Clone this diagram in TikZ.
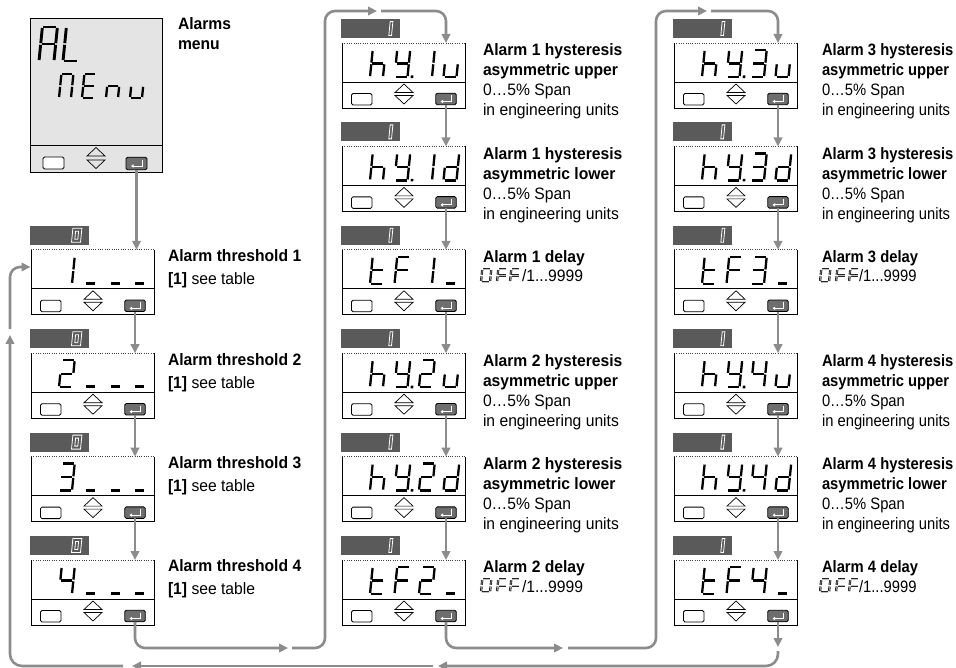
\documentclass[tikz,border=0pt]{standalone}
\usepackage{fontspec}
\setmainfont{Liberation Sans}[FakeStretch=0.95]
\newfontfamily\nfont{Liberation Sans}[FakeStretch=0.895]
\usetikzlibrary{arrows.meta}
\definecolor{conncol}{HTML}{8C8C8C}
\definecolor{tabgray}{HTML}{5A5A5A}
\definecolor{lcdgray}{HTML}{E4E4E4}
\definecolor{keygray}{HTML}{6E6E6E}
\definecolor{dotgray}{HTML}{444444}
\tikzset{
 flow/.style={draw=conncol, line width=2.6pt, -{Triangle[length=9pt,width=8.5pt]}},
 frame/.style={draw=black, line width=0.8pt},
 dotline/.style={draw=dotgray, line width=0.8pt, dash pattern=on 1pt off 1.3pt},
 dispbox/.style={anchor=north west, minimum width=123pt, minimum height=65pt, inner sep=0pt, outer sep=0pt, fill=white},
 tabbox/.style={anchor=north west, minimum width=59pt, minimum height=19pt, inner sep=0pt, outer sep=0pt, fill=tabgray},
 tabln/.style={draw=white, line width=0.8pt},
 enterkey/.style={draw=black, line width=0.8pt, fill=keygray, rounded corners=1.5pt, minimum width=20.5pt, minimum height=11.5pt, inner sep=0pt, outer sep=0pt},
 retsym/.style={draw=white, line width=0.9pt, -{Triangle[length=2.5pt,width=3.2pt]}},
 segblk/.style={draw=black, line width=2.3pt},
 segbig/.style={draw=black, line width=2.9pt},
 offout/.style={draw=black!85, line width=2.3pt},
 offin/.style={draw=black!25, line width=0.5pt},
 lbl/.style={anchor=north west, inner sep=0pt, outer sep=0pt, align=left, font=\fontsize{16.5}{20}\selectfont},
 lblA/.style={lbl, font=\fontsize{16.5}{23}\selectfont},
 lblC/.style={lbl, font=\fontsize{16.5}{20}\selectfont\nfont},
 valtxt/.style={anchor=base west, inner sep=0pt, outer sep=0pt, font=\fontsize{16.5}{20}\selectfont},
 valtxtC/.style={valtxt, font=\fontsize{16.5}{20}\selectfont\nfont},
}
% seven-segment pieces (local origin = bottom-left of the cell, y downwards)
\def\sgxa{\draw[curseg] (1,-\sgH) -- (\sgW-1,-\sgH);}
\def\sgxb{\draw[curseg] (\sgW,-\sgH+1) -- (\sgW,-\sgH/2-0.8);}
\def\sgxc{\draw[curseg] (\sgW,-\sgH/2+0.8) -- (\sgW,-1);}
\def\sgxd{\draw[curseg] (1,0) -- (\sgW-1,0);}
\def\sgxe{\draw[curseg] (0,-\sgH/2+0.8) -- (0,-1);}
\def\sgxf{\draw[curseg] (0,-\sgH+1) -- (0,-\sgH/2-0.8);}
\def\sgxg{\draw[curseg] (1,-\sgH/2) -- (\sgW-1,-\sgH/2);}
\def\sgxp{\fill[black] (\sgW+3.2,1.1) rectangle (\sgW+5.8,-1.5);}
\def\sgxz{\draw[curseg, line width=3.2pt] (2.5,-0.5) -- (\sgW-1.5,-0.5);}
\def\sgx{}
\def\sqH{f,e,g,c}
\def\sqY{f,b,g,c,d,p}
\def\sqI{b,c}
\def\sqU{e,d,c}
\def\sqD{b,c,d,e,g}
\def\sqTwo{a,b,g,e,d}
\def\sqThree{a,b,g,c,d}
\def\sqFour{f,g,b,c}
\def\sqT{f,e,g,d}
\def\sqF{a,f,e,g}
\def\sqUs{z}
\def\sqZero{a,b,c,d,e,f}
\def\sqA{a,b,c,e,f,g}
\def\sqL{f,e,d}
\def\sqM{a,b,c,e,f}
\def\sqE{a,f,g,e,d}
\def\sqN{e,g,c}
% outlined digits of the dark tabs
\def\tabZ{\draw[tabln] (0,0) rectangle (9,-14); \draw[tabln] (3,-3) rectangle (6,-11);}
\def\tabO{\draw[tabln] (6.3,0) rectangle (9,-14);}
\newcommand\sevseg[6][segblk]{%
  \begin{scope}[shift={(#2,#3)}, xslant=0.1]
    \tikzset{curseg/.style={#1}}%
    \def\sgW{#4}\def\sgH{#5}%
    \foreach \s in #6 {\csname sgx\s\endcsname}%
  \end{scope}}
\newcommand\sdisp[8]{%
  \node[tabbox] (#1t) at (#2-1,#3-24) {};
  \begin{scope}[shift={(#2+40.5,#3-7.5)}, xslant=0.1] #4 \end{scope}
  \node[dispbox] (#1) at (#2,#3) {};
  \draw[dotline] (#1.north west) -- (#1.north east);
  \draw[frame] (#1.north west) -- (#1.south west) -- (#1.south east) -- (#1.north east);
  \draw[frame] (#2,#3+39) -- (#2+123,#3+39);
  \draw[frame, fill=white, rounded corners=1.5pt] (#2+9.5,#3+50.5) rectangle (#2+30,#3+62);
  \draw[frame, line width=0.7pt] (#2+53,#3+49.5) -- (#2+62,#3+41) -- (#2+71,#3+49.5) -- cycle;
  \draw[frame, line width=0.7pt] (#2+53,#3+52.5) -- (#2+62,#3+61) -- (#2+71,#3+52.5) -- cycle;
  \node[enterkey] (#1k) at (#2+104,#3+56) {};
  \draw[retsym] (#2+109,#3+52.5) -- (#2+109,#3+58.5) -- (#2+98.5,#3+58.5);
  \sevseg{#2+28}{#3+34}{13}{27}{#5}%
  \sevseg{#2+52.5}{#3+34}{13}{27}{#6}%
  \sevseg{#2+77}{#3+34}{13}{27}{#7}%
  \sevseg{#2+101.5}{#3+34}{13}{27}{#8}%
}
\newcommand\offglyphs[2]{%
  \sevseg[offout]{#1}{#2}{9}{13}{\sqZero}%
  \sevseg[offout]{#1+16}{#2}{9}{13}{\sqF}%
  \sevseg[offout]{#1+29}{#2}{9}{13}{\sqF}%
  \sevseg[offin]{#1}{#2}{9}{13}{\sqZero}%
  \sevseg[offin]{#1+16}{#2}{9}{13}{\sqF}%
  \sevseg[offin]{#1+29}{#2}{9}{13}{\sqF}%
}
\begin{document}
\begin{tikzpicture}[x=1pt, y=-1pt]
\useasboundingbox (0,0) rectangle (956,668);

% ---------- big display ----------
\node[anchor=north west, minimum width=132pt, minimum height=154pt, inner sep=0pt, outer sep=0pt, fill=lcdgray, draw=black, line width=0.8pt] (big) at (30,18) {};
\draw[frame] (30,145) -- (162,145);
\draw[frame, fill=white, rounded corners=1.5pt] (43,157) rectangle (64,169);
\draw[frame, line width=0.7pt] (87,156) -- (96,147.5) -- (105,156) -- cycle;
\draw[frame, line width=0.7pt] (87,160) -- (96,168.5) -- (105,160) -- cycle;
\node[enterkey, minimum width=21pt, minimum height=12.5pt] (bigk) at (136.5,163.5) {};
\draw[retsym] (142,160) -- (142,166) -- (131,166);
\sevseg[segbig]{39}{61}{15}{34}{\sqA}
\sevseg[segbig]{63}{61}{15}{34}{\sqL}
\sevseg{59}{98}{12}{24}{\sqM}
\sevseg{82}{98}{12}{24}{\sqE}
\sevseg{106}{98}{12}{24}{\sqN}
\sevseg{130}{98}{12}{24}{\sqU}
\node[lbl] (lbig) at (178,18) {\textbf{Alarms}\\\textbf{menu}};

% ---------- column 1 ----------
\sdisp{d11}{31}{249.8}{\tabZ}{\sqI}{\sqUs}{\sqUs}{\sqUs}
\sdisp{d12}{31}{353.2}{\tabZ}{\sqTwo}{\sqUs}{\sqUs}{\sqUs}
\sdisp{d13}{31}{456.6}{\tabZ}{\sqThree}{\sqUs}{\sqUs}{\sqUs}
\sdisp{d14}{31}{560}{\tabZ}{\sqFour}{\sqUs}{\sqUs}{\sqUs}
\node[lblA] (l11) at (168,249.8) {\textbf{Alarm threshold 1}\\\textbf{[1]} see table};
\node[lblA] (l12) at (168,353.2) {\textbf{Alarm threshold 2}\\\textbf{[1]} see table};
\node[lblA] (l13) at (168,456.6) {\textbf{Alarm threshold 3}\\\textbf{[1]} see table};
\node[lblA] (l14) at (168,560) {\textbf{Alarm threshold 4}\\\textbf{[1]} see table};

% ---------- column 2 ----------
\sdisp{d21}{342}{43}{\tabO}{\sqH}{\sqY}{\sqI}{\sqU}
\sdisp{d22}{342}{146.4}{\tabO}{\sqH}{\sqY}{\sqI}{\sqD}
\sdisp{d23}{342}{249.8}{\tabO}{\sqT}{\sqF}{\sqI}{\sqUs}
\sdisp{d24}{342}{353.2}{\tabO}{\sqH}{\sqY}{\sqTwo}{\sqU}
\sdisp{d25}{342}{456.6}{\tabO}{\sqH}{\sqY}{\sqTwo}{\sqD}
\sdisp{d26}{342}{560}{\tabO}{\sqT}{\sqF}{\sqTwo}{\sqUs}
\node[lbl] (l21) at (483,44) {\textbf{Alarm 1 hysteresis}\\\textbf{asymmetric upper}\\0…5\% Span\\in engineering units};
\node[lbl] (l22) at (483,147.4) {\textbf{Alarm 1 hysteresis}\\\textbf{asymmetric lower}\\0…5\% Span\\in engineering units};
\node[lbl] (l23) at (483,250.8) {\textbf{Alarm 1 delay}};
\offglyphs{481}{282}
\node[valtxt] (v23) at (522,282) {/1...9999};
\node[lbl] (l24) at (483,354.2) {\textbf{Alarm 2 hysteresis}\\\textbf{asymmetric upper}\\0…5\% Span\\in engineering units};
\node[lbl] (l25) at (483,457.6) {\textbf{Alarm 2 hysteresis}\\\textbf{asymmetric lower}\\0…5\% Span\\in engineering units};
\node[lbl] (l26) at (483,561) {\textbf{Alarm 2 delay}};
\offglyphs{481}{592.2}
\node[valtxt] (v26) at (522,592.2) {/1...9999};

% ---------- column 3 ----------
\sdisp{d31}{674}{43}{\tabO}{\sqH}{\sqY}{\sqThree}{\sqU}
\sdisp{d32}{674}{146.4}{\tabO}{\sqH}{\sqY}{\sqThree}{\sqD}
\sdisp{d33}{674}{249.8}{\tabO}{\sqT}{\sqF}{\sqThree}{\sqUs}
\sdisp{d34}{674}{353.2}{\tabO}{\sqH}{\sqY}{\sqFour}{\sqU}
\sdisp{d35}{674}{456.6}{\tabO}{\sqH}{\sqY}{\sqFour}{\sqD}
\sdisp{d36}{674}{560}{\tabO}{\sqT}{\sqF}{\sqFour}{\sqUs}
\node[lblC] (l31) at (822,44) {\textbf{Alarm 3 hysteresis}\\\textbf{asymmetric upper}\\0…5\% Span\\in engineering units};
\node[lblC] (l32) at (822,147.4) {\textbf{Alarm 3 hysteresis}\\\textbf{asymmetric lower}\\0…5\% Span\\in engineering units};
\node[lblC] (l33) at (822,250.8) {\textbf{Alarm 3 delay}};
\offglyphs{820}{282}
\node[valtxtC] (v33) at (859,282) {/1...9999};
\node[lblC] (l34) at (822,354.2) {\textbf{Alarm 4 hysteresis}\\\textbf{asymmetric upper}\\0…5\% Span\\in engineering units};
\node[lblC] (l35) at (822,457.6) {\textbf{Alarm 4 hysteresis}\\\textbf{asymmetric lower}\\0…5\% Span\\in engineering units};
\node[lblC] (l36) at (822,561) {\textbf{Alarm 4 delay}};
\offglyphs{820}{592.2}
\node[valtxtC] (v36) at (859,592.2) {/1...9999};

% ---------- connectors ----------
\draw[flow] (bigk.south) -- (bigk.south |- d11.north);
\draw[flow] (d11k.south) -- (d11k.south |- d12.north);
\draw[flow] (d12k.south) -- (d12k.south |- d13.north);
\draw[flow] (d13k.south) -- (d13k.south |- d14.north);
\draw[flow] (d21k.south) -- (d21k.south |- d22.north);
\draw[flow] (d22k.south) -- (d22k.south |- d23.north);
\draw[flow] (d23k.south) -- (d23k.south |- d24.north);
\draw[flow] (d24k.south) -- (d24k.south |- d25.north);
\draw[flow] (d25k.south) -- (d25k.south |- d26.north);
\draw[flow] (d31k.south) -- (d31k.south |- d32.north);
\draw[flow] (d32k.south) -- (d32k.south |- d33.north);
\draw[flow] (d33k.south) -- (d33k.south |- d34.north);
\draw[flow] (d34k.south) -- (d34k.south |- d35.north);
\draw[flow] (d35k.south) -- (d35k.south |- d36.north);

\coordinate (a1) at (288,648);
\coordinate (a2) at (292,648);
\coordinate (a3) at (325,11);
\coordinate (a4) at (377,11);
\coordinate (a5) at (381,11);
\draw[flow, rounded corners=10pt] (d14k.south) |- (a1);
\draw[flow, rounded corners=10pt] (a2) -| (a3) -- (a4);
\draw[flow, rounded corners=10pt] (a5) -| (d21k.south |- d21.north);

\coordinate (b1) at (563,648);
\coordinate (b2) at (568,648);
\coordinate (b3) at (656,11);
\coordinate (b4) at (707,11);
\coordinate (b5) at (711,11);
\draw[flow, rounded corners=10pt] (d26k.south) |- (b1);
\draw[flow, rounded corners=10pt] (b2) -| (b3) -- (b4);
\draw[flow, rounded corners=10pt] (b5) -| (d31k.south |- d31.north);

\coordinate (r1) at (778,647);
\coordinate (r2) at (778,651);
\coordinate (r3) at (438,666);
\coordinate (r4) at (433,666);
\coordinate (r5) at (132,666);
\coordinate (r6) at (123,666);
\coordinate (r7) at (10,335);
\coordinate (r8) at (10,329);
\coordinate (r9) at (30.5,267);
\draw[flow] (d36k.south) -- (r1);
\draw[flow, rounded corners=12pt] (r2) |- (r3);
\draw[flow] (r4) -- (r5);
\draw[flow, rounded corners=12pt] (r6) -| (r7);
\draw[flow, rounded corners=10pt] (r8) |- (r9);
\end{tikzpicture}
\end{document}
